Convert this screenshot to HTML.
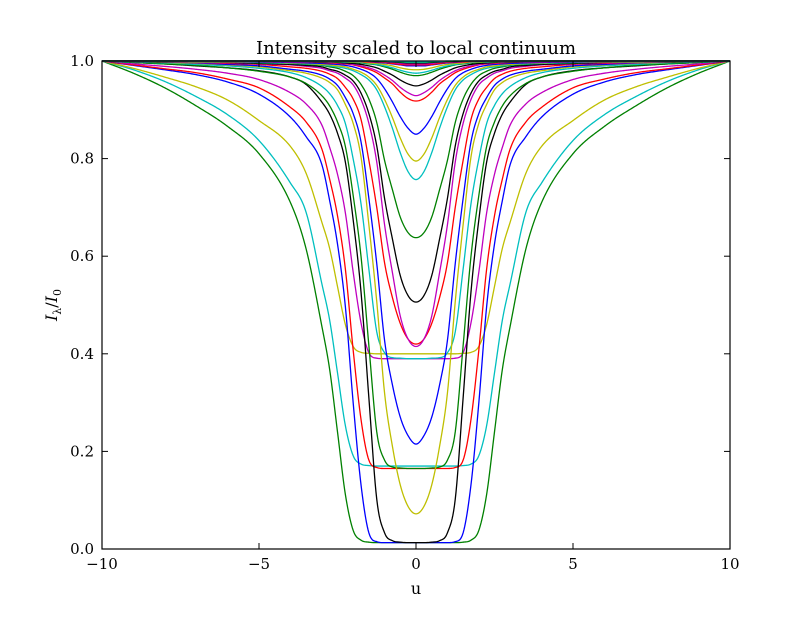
<!DOCTYPE html>
<html><head><meta charset="utf-8"><style>
body{margin:0;background:#fff;}
svg text{font-family:"DejaVu Serif","Liberation Serif",serif;}
</style></head><body>
<svg id="chart" width="812" height="612" viewBox="0 0 812 612" xmlns="http://www.w3.org/2000/svg">
<rect width="812" height="612" fill="#fff"/>
<text x="416" y="54" font-size="18" text-anchor="middle">Intensity scaled to local continuum</text>
<g id="lines"></g>
<g id="axes"></g>
<text x="416" y="594" font-size="16" text-anchor="middle">u</text>
<text transform="translate(57,305) rotate(-90)" font-size="16" text-anchor="middle"><tspan font-style="italic">I</tspan><tspan font-size="11" dy="4">λ</tspan><tspan dy="-4">/</tspan><tspan font-style="italic">I</tspan><tspan font-size="11" dy="4">0</tspan></text>
</svg>
<script>
// half-profile sample points (u >= 0), mirrored for u < 0
const uGrid = [0,0.25,0.5,0.75,1,1.25,1.5,1.75,2,2.25,2.5,2.75,3,3.5,4,5,6,7,8,9,10];
const seriesColors = ["g","c","y","b","r","m","k","g","c","y","b","r","m","k","g","c","y","b","r","m","k","g","c","y","b","r","m","k","g","c"];
const s01 = [.013,.013,.013,.013,.013,.013,.014,.018,.038,.112,.240,.368,.457,.615,.71,.81,.866,.908,.945,.975,1];
const s02 = [.17,.17,.17,.17,.17,.17,.171,.174,.191,.253,.361,.469,.544,.69,.75,.837,.89,.927,.958,.982,1];
const s03 = [.40,.40,.40,.40,.40,.40,.401,.403,.415,.46,.538,.616,.67,.77,.825,.878,.92,.947,.967,.985,1];
const s04 = [.013,.013,.013,.013,.013,.015,.033,.131,.299,.497,.625,.714,.788,.845,.885,.932,.957,.972,.982,.991,1];
const s05 = [.165,.165,.165,.165,.165,.167,.182,.265,.407,.574,.683,.758,.82,.875,.905,.945,.963,.976,.984,.992,1];
const s06 = [.39,.39,.39,.39,.39,.391,.402,.463,.567,.689,.768,.823,.869,.912,.935,.962,.975,.983,.989,.994,1];
const s07 = [.013,.013,.014,.017,.033,.102,.309,.526,.674,.793,.852,.891,.916,.952,.967,.98,.986,.99,.994,.997,1];
const s08 = [.165,.165,.166,.168,.182,.24,.416,.599,.724,.825,.875,.908,.929,.954,.967,.979,.986,.991,.994,.997,1];
const s09 = [.39,.39,.391,.392,.402,.445,.573,.707,.799,.872,.909,.933,.948,.966,.976,.985,.99,.993,.996,.998,1];
const s10 = [.072,.087,.131,.210,.319,.507,.664,.803,.872,.911,.941,.956,.965,.975,.98,.988,.992,.995,.997,.999,1];
const s11 = [.215,.232,.27,.336,.427,.585,.718,.834,.892,.925,.95,.963,.971,.979,.983,.99,.993,.996,.998,.999,1];
const s12 = [.42,.43,.462,.515,.586,.7,.796,.88,.922,.946,.964,.973,.979,.985,.988,.993,.995,.997,.998,.999,1];
const s13 = [.415,.43,.477,.566,.664,.793,.872,.921,.951,.965,.975,.98,.985,.989,.992,.994,.996,.997,.998,.999,1];
const s14 = [.506,.519,.56,.635,.718,.826,.892,.934,.959,.971,.979,.983,.988,.991,.993,.995,.997,.998,.998,.999,1];
const s15 = [.638,.648,.68,.736,.796,.874,.922,.952,.97,.979,.985,.988,.991,.993,.995,.996,.998,.998,.999,.999,1];
const s16 = [.757,.773,.812,.862,.906,.941,.961,.972,.98,.985,.988,.99,.992,.994,.995,.997,.998,.998,.999,1,1];
const s17 = [.795,.809,.842,.884,.921,.95,.967,.977,.983,.988,.99,.992,.993,.995,.996,.998,.998,.998,.999,1,1];
const s18 = [.85,.862,.886,.916,.943,.964,.976,.983,.988,.991,.993,.994,.995,.996,.997,.998,.999,.999,.999,1,1];
const s19 = [.918,.923,.936,.953,.965,.976,.983,.988,.992,.994,.995,.996,.997,.998,.998,.999,.999,1,1,1,1];
const s20 = [.929,.935,.946,.96,.971,.98,.986,.99,.993,.995,.996,.997,.998,.998,.998,.999,.999,1,1,1,1];
const s21 = [.949,.953,.961,.971,.979,.986,.99,.993,.995,.996,.997,.998,.998,.999,.999,.999,1,1,1,1,1];
const s22 = [.97,.972,.977,.983,.988,.992,.994,.996,.997,.998,.998,.999,.999,.999,1,1,1,1,1,1,1];
const s23 = [.975,.977,.981,.986,.99,.993,.995,.997,.998,.998,.999,.999,.999,1,1,1,1,1,1,1,1];
const s24 = [.982,.983,.986,.99,.993,.995,.996,.998,.998,.999,.999,.999,1,1,1,1,1,1,1,1,1];
const s25 = [.99,.99,.992,.994,.996,.997,.998,.999,.999,1,1,1,1,1,1,1,1,1,1,1,1];
const s26 = [.992,.992,.993,.995,.997,.998,.998,.999,1,1,1,1,1,1,1,1,1,1,1,1,1];
const s27 = [.994,.994,.995,.997,.998,.999,.999,1,1,1,1,1,1,1,1,1,1,1,1,1,1];
const s28 = [.996,.996,.997,.998,.999,.999,1,1,1,1,1,1,1,1,1,1,1,1,1,1,1];
const s29 = [.997,.997,.998,.999,.999,1,1,1,1,1,1,1,1,1,1,1,1,1,1,1,1];
const s30 = [.998,.998,.999,.999,1,1,1,1,1,1,1,1,1,1,1,1,1,1,1,1,1];
const seriesValues = [s01,s02,s03,s04,s05,s06,s07,s08,s09,s10,s11,s12,s13,s14,s15,s16,s17,s18,s19,s20,s21,s22,s23,s24,s25,s26,s27,s28,s29,s30];
const xTicks = [-10,-5,0,5,10];
const xTickLabels = ["\u221210","\u22125","0","5","10"];
const yTicks = [0,0.2,0.4,0.6,0.8,1.0];
const yTickLabels = ["0.0","0.2","0.4","0.6","0.8","1.0"];

const NS = "http://www.w3.org/2000/svg";
const L = 102, R = 730, T = 61, B = 549;
const xMin = -10, xMax = 10, yMin = 0, yMax = 1;
function xs(u){ return L + (u - xMin) / (xMax - xMin) * (R - L); }
function ys(v){ return B - (v - yMin) / (yMax - yMin) * (B - T); }
const colorMap = {b:"#0000ff",g:"#008000",r:"#ff0000",c:"#00bfbf",m:"#bf00bf",y:"#bfbf00",k:"#000000"};

function monotone(xa, ya){
  const n = xa.length, d = [], m = new Array(n);
  for (let i = 0; i < n-1; i++) d.push((ya[i+1]-ya[i])/(xa[i+1]-xa[i]));
  m[0] = d[0]; m[n-1] = d[n-2];
  for (let i = 1; i < n-1; i++) m[i] = (d[i-1]*d[i] <= 0) ? 0 : (d[i-1]+d[i])/2;
  for (let i = 0; i < n-1; i++) {
    if (d[i] === 0) { m[i] = 0; m[i+1] = 0; continue; }
    const a = m[i]/d[i], b = m[i+1]/d[i], s = a*a + b*b;
    if (s > 9) { const t = 3/Math.sqrt(s); m[i] = t*a*d[i]; m[i+1] = t*b*d[i]; }
  }
  return function(x){
    let i = 0; while (i < n-2 && x > xa[i+1]) i++;
    const h = xa[i+1]-xa[i], t = (x-xa[i])/h, t2 = t*t, t3 = t2*t;
    return (2*t3-3*t2+1)*ya[i] + (t3-2*t2+t)*h*m[i] + (-2*t3+3*t2)*ya[i+1] + (t3-t2)*h*m[i+1];
  };
}

const gLines = document.getElementById("lines");
seriesValues.forEach((vals, idx) => {
  const xa = [], ya = [];
  for (let i = uGrid.length-1; i > 0; i--) { xa.push(-uGrid[i]); ya.push(vals[i]); }
  for (let i = 0; i < uGrid.length; i++) { xa.push(uGrid[i]); ya.push(vals[i]); }
  const f = monotone(xa, ya);
  let dstr = "";
  for (let k = 0; k <= 800; k++) {
    const u = xMin + (xMax - xMin) * k / 800;
    dstr += (k ? "L" : "M") + xs(u).toFixed(2) + "," + ys(f(u)).toFixed(2);
  }
  const p = document.createElementNS(NS, "path");
  p.setAttribute("d", dstr);
  p.setAttribute("fill", "none");
  p.setAttribute("stroke", colorMap[seriesColors[idx]]);
  p.setAttribute("stroke-width", "1.3");
  
  
  gLines.appendChild(p);
});

const gAx = document.getElementById("axes");
function add(tag, attrs, name, text){
  const e = document.createElementNS(NS, tag);
  for (const k in attrs) e.setAttribute(k, attrs[k]);
  
  
  if (text !== undefined) e.textContent = text;
  gAx.appendChild(e);
  return e;
}
add("rect", {x:L, y:T, width:R-L, height:B-T, fill:"none", stroke:"#000", "stroke-width":1.2}, "plot-frame");
xTicks.forEach((v, i) => {
  const x = xs(v);
  add("line", {x1:x, y1:B, x2:x, y2:B-6, stroke:"#000"}, "x-tick-bottom");
  add("line", {x1:x, y1:T, x2:x, y2:T+6, stroke:"#000"}, "x-tick-top");
  add("text", {x:x, y:B+20, "font-size":15, "text-anchor":"middle"}, "x-tick-label", xTickLabels[i]);
});
yTicks.forEach((v, i) => {
  const y = ys(v);
  add("line", {x1:L, y1:y, x2:L+6, y2:y, stroke:"#000"}, "y-tick-left");
  add("line", {x1:R, y1:y, x2:R-6, y2:y, stroke:"#000"}, "y-tick-right");
  add("text", {x:L-8, y:y+5, "font-size":15, "text-anchor":"end"}, "y-tick-label", yTickLabels[i]);
});
</script>
</body></html>
